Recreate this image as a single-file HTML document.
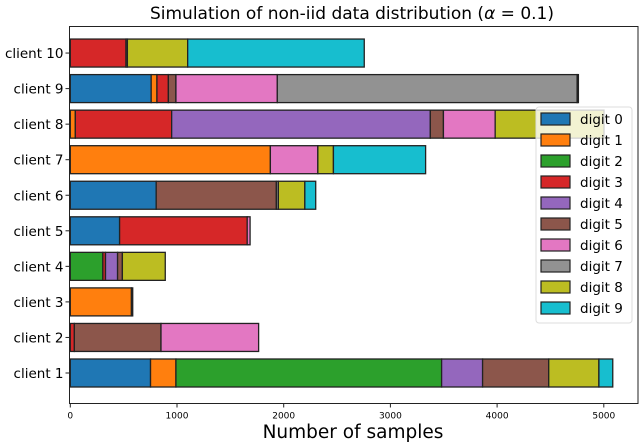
<!DOCTYPE html>
<html><head><meta charset="utf-8"><style>
body{margin:0;background:#fff}
svg{display:block;font-family:"DejaVu Sans","Liberation Sans",sans-serif}
</style></head><body>
<svg id="c" width="640" height="443"></svg>
<script>
const clients=["client 1","client 2","client 3","client 4","client 5","client 6","client 7","client 8","client 9","client 10"];
const digits=["digit 0","digit 1","digit 2","digit 3","digit 4","digit 5","digit 6","digit 7","digit 8","digit 9"];
const colors=["#1f77b4","#ff7f0e","#2ca02c","#d62728","#9467bd","#8c564b","#e377c2","#929292","#bcbd22","#17becf"];
// counts per client, per digit 0..9
const c1=[752,238,2490,0,384,620,0,0,470,130];
const c2=[0,0,0,38,0,812,915,0,0,0];
const c3=[0,573,0,0,0,0,0,12,0,0];
const c4=[0,0,305,25,113,45,0,0,402,0];
const c5=[462,0,0,1196,0,0,27,0,0,0];
const c6=[805,0,0,0,0,1126,0,19,248,102];
const c7=[0,1875,0,0,0,0,445,0,146,864];
const c8=[0,47,0,903,2424,123,485,0,1020,0];
const c9=[758,54,0,107,0,71,950,2810,12,0];
const c10=[0,0,0,522,0,0,0,13,565,1655];
const counts=[c1,c2,c3,c4,c5,c6,c7,c8,c9,c10];
const xTicks=[0,1000,2000,3000,4000,5000];

const NS="http://www.w3.org/2000/svg";
const svg=document.getElementById('c');
function mk(t,a,p){const e=document.createElementNS(NS,t);for(const k in a)e.setAttribute(k,a[k]);(p||svg).appendChild(e);return e;}
const L=69.5,R=638,T=26.5,B=403.5;
const x=v=>70.3+v*0.1067;
const y=i=>373-i*35.55;
const bh=28;

const title=mk('text',{x:352,y:19,'text-anchor':'middle','font-size':17});

title.textContent='Simulation of non-iid data distribution (';
const al=mk('tspan',{'font-style':'italic'},title);al.textContent='α';
const t2=mk('tspan',{},title);t2.textContent=' = 0.1)';

const bars=mk('g',{});

counts.forEach((row,i)=>{
  let acc=0;
  row.forEach((v,d)=>{
    if(v<=0)return;
    const r=mk('rect',{x:x(acc),y:y(i)-bh/2,width:x(acc+v)-x(acc),height:bh,fill:colors[d],stroke:'#222','stroke-width':1.3},bars);
    
    
    acc+=v;
  });
});

const frame=mk('rect',{x:L,y:T,width:R-L,height:B-T,fill:'none',stroke:'#222','stroke-width':1});


xTicks.forEach(v=>{
  mk('line',{x1:x(v),x2:x(v),y1:B,y2:B+4,stroke:'#222'});
  const t=mk('text',{x:x(v),y:B+15,'text-anchor':'middle','font-size':9});
  
  t.textContent=v;
});
clients.forEach((c,i)=>{
  mk('line',{x1:L-4,x2:L,y1:y(i),y2:y(i),stroke:'#222'});
  const t=mk('text',{x:L-6,y:y(i)+5,'text-anchor':'end','font-size':13.5});
  
  t.textContent=c;
});
const xl=mk('text',{x:353,y:438,'text-anchor':'middle','font-size':18.5});

xl.textContent='Number of samples';

const lg=mk('g',{});

mk('rect',{x:536,y:107,width:96,height:216,rx:3,fill:'#fff','fill-opacity':0.8,stroke:'#ddd'},lg);
digits.forEach((d,k)=>{
  const yy=119+k*21;
  const e=mk('g',{},lg);
  
  mk('rect',{x:541,y:yy-6,width:29,height:12,fill:colors[k],stroke:'#222','stroke-width':1.2},e);
  const t=mk('text',{x:580,y:yy+5,'font-size':13.5},e);t.textContent=d;
});
</script>
</body></html>
